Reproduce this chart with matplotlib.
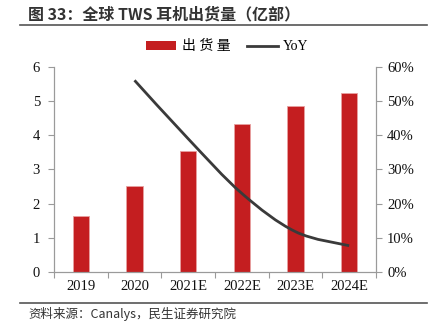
import matplotlib.pyplot as plt
from matplotlib.path import Path
from matplotlib.patches import PathPatch, Patch
from matplotlib.lines import Line2D

plt.rcParams['font.family'] = ['Liberation Serif', 'Noto Sans CJK SC']

years = ["2019", "2020", "2021E", "2022E", "2023E", "2024E"]
shipments = [1.63, 2.53, 3.53, 4.33, 4.86, 5.23]   # 亿部
yoy_years = [1, 2, 3, 4, 5]
yoy = [56.1, 39.0, 23.0, 11.8, 7.7]                  # %

red = "#C41E20"
dark = "#3a3a3a"
grey = "#9a9a9a"

fig = plt.figure(figsize=(4.37, 3.23), dpi=100)
ax = fig.add_axes([0.1236, 0.1579, 0.7368, 0.6347])
ax2 = ax.twinx()

ax.bar(range(len(years)), shipments, width=0.31, color=red,
       edgecolor="#e8a0a0", linewidth=0.6, zorder=2)

# smoothed YoY line (Catmull-Rom as cubic bezier through the data points)
pts = list(zip(yoy_years, yoy))
verts = [pts[0]]
codes = [Path.MOVETO]
for i in range(len(pts) - 1):
    p0 = pts[i - 1] if i > 0 else pts[i]
    p1, p2 = pts[i], pts[i + 1]
    p3 = pts[i + 2] if i + 2 < len(pts) else pts[i + 1]
    c1 = (p1[0] + (p2[0] - p0[0]) / 6, p1[1] + (p2[1] - p0[1]) / 6)
    c2 = (p2[0] - (p3[0] - p1[0]) / 6, p2[1] - (p3[1] - p1[1]) / 6)
    verts += [c1, c2, p2]
    codes += [Path.CURVE4] * 3
ax2.add_patch(PathPatch(Path(verts, codes), facecolor="none",
                        edgecolor=dark, linewidth=2, zorder=3))

ax.set_xlim(-0.5, 5.5)
ax.set_ylim(0, 6)
ax2.set_ylim(0, 60)
ax.set_yticks(range(0, 7))
ax2.set_yticks(range(0, 61, 10))
ax2.set_yticklabels([f"{v}%" for v in range(0, 61, 10)])
ax.set_xticks(range(len(years)))
ax.set_xticklabels(years)
ax.set_xticks([i - 0.5 for i in range(len(years) + 1)], minor=True)
ax.tick_params(axis="x", which="major", length=0, pad=6)
ax.tick_params(axis="x", which="minor", length=4, color=grey, width=0.8)
ax.tick_params(axis="y", length=4, color=grey, width=0.8, pad=6)
ax2.tick_params(axis="y", length=4, color=grey, width=0.8, pad=4)
for a in (ax, ax2):
    a.tick_params(labelsize=10.5, labelcolor="#111111")
    a.spines["top"].set_visible(False)
    for s in ("left", "right", "bottom"):
        a.spines[s].set_color(grey)
        a.spines[s].set_linewidth(0.8)

handles = [Patch(facecolor=red, edgecolor="none"),
           Line2D([], [], color=dark, linewidth=2)]
fig.legend(handles, ["出 货 量", "YoY"], loc="center", ncol=2,
           bbox_to_anchor=(0.52, 0.855), frameon=False, fontsize=10,
           handlelength=2.2, handleheight=0.6, columnspacing=1.2,
           handletextpad=0.4)

fig.text(0.064, 0.955, "图 33：全球 TWS 耳机出货量（亿部）", fontsize=11.5,
         fontweight="bold", color="#333333", va="center",
         family=["Noto Sans CJK SC"])
fig.add_artist(Line2D([0.046, 0.977], [0.923, 0.923], color="#555555",
                      linewidth=1.2))
fig.add_artist(Line2D([0.046, 0.977], [0.062, 0.062], color="#555555",
                      linewidth=1.2))
fig.text(0.064, 0.028, "资料来源：Canalys，民生证券研究院", fontsize=9,
         color="#333333", va="center", family=["Noto Sans CJK SC"])

fig.savefig("out.png", dpi=100)
